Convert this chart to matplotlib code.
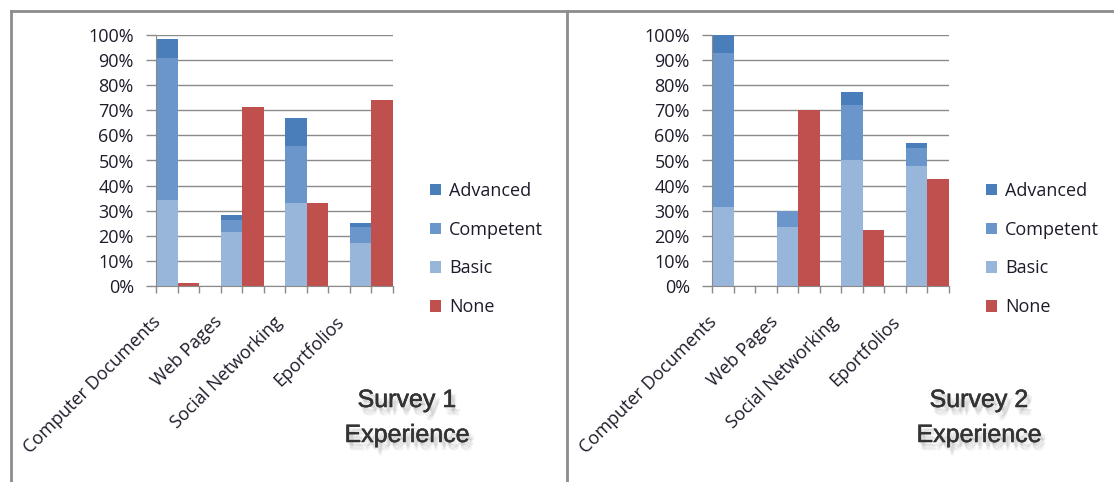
import numpy as np
import matplotlib
matplotlib.use("Agg")
import matplotlib.pyplot as plt
import matplotlib.ticker as mticker
import matplotlib.patheffects as pe
from matplotlib.patches import Patch
from matplotlib.lines import Line2D

# ── Data (shares of respondents) ─────────────────────────────
categories = ["Computer Documents", "Web Pages", "Social Networking", "Eportfolios"]
levels     = ["Advanced", "Competent", "Basic", "None"]

s1_basic     = [0.343, 0.216, 0.329, 0.173]
s1_competent = [0.564, 0.047, 0.229, 0.063]
s1_advanced  = [0.077, 0.020, 0.113, 0.016]
s1_none      = [0.013, 0.714, 0.329, 0.741]

s2_basic     = [0.316, 0.236, 0.502, 0.479]
s2_competent = [0.611, 0.063, 0.219, 0.072]
s2_advanced  = [0.073, 0.000, 0.053, 0.020]
s2_none      = [0.000, 0.701, 0.223, 0.426]

titles = ["Survey 1\nExperience", "Survey 2\nExperience"]

# ── Style ────────────────────────────────────────────────────
COLORS = {"Advanced": "#4a7ebb", "Competent": "#6b96cb",
          "Basic": "#98b6da", "None": "#c0504d"}
GRID   = "#8a8a8a"
TXT    = "#1c1c2a"
FONT   = "Open Sans"
W, H   = 1114, 482

plt.rcParams["font.family"] = [FONT, "DejaVu Sans"]

fig = plt.figure(figsize=(W / 100, H / 100), dpi=100)

# frame lines like the original screenshot
for xs, ys in [((11, W), (11, 11)), ((11, 11), (11, H)), ((567, 567), (11, H))]:
    fig.add_artist(Line2D([x / W for x in xs], [1 - y / H for y in ys],
                          color="#8c8c8c", lw=2, transform=fig.transFigure))

panels = [
    (156, (s1_basic, s1_competent, s1_advanced, s1_none), 407),
    (712, (s2_basic, s2_competent, s2_advanced, s2_none), 979),
]

# soft drop shadow behind the survey titles
shadow = [pe.SimplePatchShadow(offset=(dx, dy), shadow_rgbFace="#808080", alpha=0.10)
          for dx, dy in [(1, -2), (2, -3), (3, -4), (2, -5), (4, -3), (3, -6)]]
shadow += [pe.withStroke(linewidth=0.4, foreground="#333333")]

for (left, (basic, comp, adv, none), tx), title in zip(panels, titles):
    ax = fig.add_axes([left / W, 1 - 286 / H, 237 / W, 251 / H])
    n = len(categories)
    xb = np.arange(n) * 3          # blue stacked bar slot
    xr = xb + 1                    # red bar slot
    basic, comp, adv, none = map(np.array, (basic, comp, adv, none))

    ax.bar(xb, basic, width=1, align="edge", color=COLORS["Basic"], zorder=3)
    ax.bar(xb, comp, bottom=basic, width=1, align="edge",
           color=COLORS["Competent"], zorder=3)
    ax.bar(xb, adv, bottom=basic + comp, width=1, align="edge",
           color=COLORS["Advanced"], zorder=3)
    ax.bar(xr, none, width=1, align="edge", color=COLORS["None"], zorder=3)

    ax.set_xlim(0, 3 * n - 1)
    ax.set_ylim(0, 1)
    ax.yaxis.set_major_locator(mticker.MultipleLocator(0.1))
    ax.yaxis.set_major_formatter(mticker.FuncFormatter(lambda v, _: f"{v * 100:.0f}%"))
    ax.yaxis.grid(True, color=GRID, lw=1, zorder=0)
    ax.tick_params(axis="y", length=7, width=1, color=GRID, pad=9,
                   labelsize=13, labelcolor=TXT)

    # tick marks at slot boundaries, labels rotated under each group
    ax.set_xticks(np.arange(0, 3 * n), minor=True)
    ax.set_xticks([0.1, 2.95, 5.75, 8.62])
    ax.set_xticklabels(categories, rotation=45, ha="right", va="center",
                       rotation_mode="anchor")
    ax.tick_params(axis="x", which="minor", length=5, width=1, color=GRID)
    ax.tick_params(axis="x", which="major", length=0, pad=24,
                   labelsize=13, labelcolor=TXT)

    for s in ("top", "right"):
        ax.spines[s].set_visible(False)
    for s in ("left", "bottom"):
        ax.spines[s].set_color(GRID)
        ax.spines[s].set_zorder(4)

    handles = [Patch(facecolor=COLORS[l], edgecolor="none") for l in levels]
    fig.legend(handles, levels, loc="center left", frameon=False,
               bbox_to_anchor=((left + 274) / W, 1 - 249 / H),
               fontsize=13, labelcolor=TXT, labelspacing=1.15,
               handlelength=0.6, handleheight=0.6, handletextpad=0.45,
               borderpad=0, borderaxespad=0)

    for line, y in zip(title.split("\n"), (400, 435)):
        fig.text(tx / W, 1 - y / H, line, ha="center", va="center",
                 fontsize=18, family="Liberation Sans", color="#333333",
                 path_effects=shadow)

fig.savefig("out.png", dpi=100)
